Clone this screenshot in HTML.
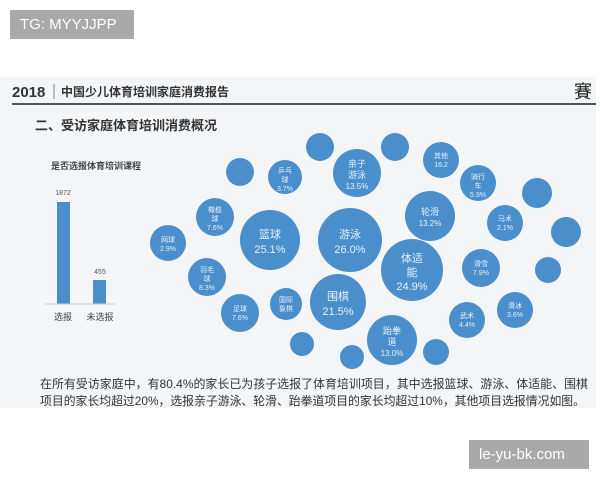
<!DOCTYPE html>
<html><head><meta charset="utf-8"><style>
body{margin:0;width:600px;height:480px;background:#fff;position:relative;overflow:hidden;font-family:"Liberation Sans","Noto Sans CJK SC",sans-serif}
.tag{position:absolute;background:#a9a9a9;color:#fff;font-size:15px;line-height:29px;padding:0 10px}
.slide{position:absolute;left:0;top:77px;width:596px;height:331px;background:#f4f5f7}
</style></head><body>
<div class="tag" style="left:10px;top:10px;width:104px">TG: MYYJJPP</div>
<div class="tag" style="left:469px;top:440px;width:100px">le-yu-bk.com</div>
<div class="slide"></div>
<svg width="600" height="480" style="position:absolute;left:0;top:0" font-family="Liberation Sans,Noto Sans CJK SC,sans-serif">
<text x="12" y="97" font-size="15" font-weight="bold" fill="#333">2018</text>
<line x1="54" y1="84" x2="54" y2="99" stroke="#888"/>
<text x="61" y="96" font-size="12" font-weight="bold" fill="#333">中国少儿体育培训家庭消费报告</text>
<text x="574" y="98" font-size="18" fill="#222">賽</text>
<line x1="12" y1="104" x2="596" y2="104" stroke="#555" stroke-width="2"/>
<text x="35" y="130" font-size="13" font-weight="bold" fill="#333">二、受访家庭体育培训消费概况</text>
<text x="51" y="169" font-size="9" font-weight="bold" fill="#444">是否选报体育培训课程</text>
<text x="63" y="195" font-size="7" fill="#555" text-anchor="middle">1872</text>
<text x="100" y="274" font-size="7" fill="#555" text-anchor="middle">455</text>
<rect x="57" y="202" width="13" height="102" fill="#4a8fcc"/>
<rect x="93" y="280" width="13" height="24" fill="#4a8fcc"/>
<line x1="45" y1="304" x2="115" y2="304" stroke="#ccc"/>
<text x="63" y="320" font-size="9" fill="#444" text-anchor="middle">选报</text>
<text x="100" y="320" font-size="9" fill="#444" text-anchor="middle">未选报</text>
<g fill="#4a8fcc">
<circle cx="270" cy="240" r="30"/><circle cx="350" cy="240" r="32"/><circle cx="412" cy="270" r="31"/>
<circle cx="338" cy="302" r="28"/><circle cx="357" cy="173" r="24"/><circle cx="430" cy="216" r="25"/>
<circle cx="392" cy="340" r="25"/><circle cx="215" cy="217" r="19"/><circle cx="207" cy="277" r="19"/>
<circle cx="240" cy="313" r="19"/><circle cx="168" cy="243" r="18"/><circle cx="285" cy="177" r="17"/>
<circle cx="240" cy="172" r="14"/><circle cx="286" cy="304" r="16"/><circle cx="302" cy="344" r="12"/>
<circle cx="352" cy="357" r="12"/><circle cx="436" cy="352" r="13"/><circle cx="481" cy="268" r="19"/>
<circle cx="505" cy="223" r="18"/><circle cx="467" cy="320" r="18"/><circle cx="515" cy="310" r="18"/>
<circle cx="441" cy="160" r="18"/><circle cx="478" cy="183" r="18"/><circle cx="320" cy="147" r="14"/>
<circle cx="395" cy="147" r="14"/><circle cx="537" cy="193" r="15"/><circle cx="566" cy="232" r="15"/><circle cx="548" cy="270" r="13"/>
</g>
<g fill="#e6f0fa" text-anchor="middle" font-size="11">
<text x="270" y="238">篮球</text><text x="270" y="253">25.1%</text>
<text x="350" y="238">游泳</text><text x="350" y="253">26.0%</text>
<text x="412" y="262">体适</text><text x="412" y="276">能</text><text x="412" y="290">24.9%</text>
<text x="338" y="300">围棋</text><text x="338" y="315">21.5%</text>
<text x="392" y="334" font-size="9">跆拳</text><text x="392" y="345" font-size="9">道</text><text x="392" y="356" font-size="8">13.0%</text>
<text x="357" y="167" font-size="9">亲子</text><text x="357" y="178" font-size="9">游泳</text><text x="357" y="189" font-size="8">13.5%</text>
<text x="430" y="215" font-size="9">轮滑</text><text x="430" y="226" font-size="8">13.2%</text>
</g>
<g fill="#e6f0fa" text-anchor="middle" font-size="7">
<text x="215" y="212">橄榄</text><text x="215" y="221">球</text><text x="215" y="230">7.6%</text>
<text x="207" y="272">羽毛</text><text x="207" y="281">球</text><text x="207" y="290">8.3%</text>
<text x="240" y="311">足球</text><text x="240" y="320">7.6%</text>
<text x="168" y="242">网球</text><text x="168" y="251">2.9%</text>
<text x="285" y="173">乒乓</text><text x="285" y="182">球</text><text x="285" y="191">3.7%</text>
<text x="286" y="302">国际</text><text x="286" y="311">象棋</text>
<text x="481" y="266">滑雪</text><text x="481" y="275">7.9%</text>
<text x="505" y="221">马术</text><text x="505" y="230">2.1%</text>
<text x="467" y="318">武术</text><text x="467" y="327">4.4%</text>
<text x="515" y="308">滑冰</text><text x="515" y="317">3.6%</text>
<text x="441" y="158">其他</text><text x="441" y="167">16.2</text>
<text x="478" y="179">骑行</text><text x="478" y="188">车</text><text x="478" y="197">5.9%</text>
</g>
<text x="40" y="388" font-size="12" fill="#333" textLength="548" lengthAdjust="spacingAndGlyphs">在所有受访家庭中，有80.4%的家长已为孩子选报了体育培训项目，其中选报篮球、游泳、体适能、围棋</text>
<text x="40" y="405" font-size="12" fill="#333" textLength="545" lengthAdjust="spacingAndGlyphs">项目的家长均超过20%，选报亲子游泳、轮滑、跆拳道项目的家长均超过10%，其他项目选报情况如图。</text>
</svg>
</body></html>
